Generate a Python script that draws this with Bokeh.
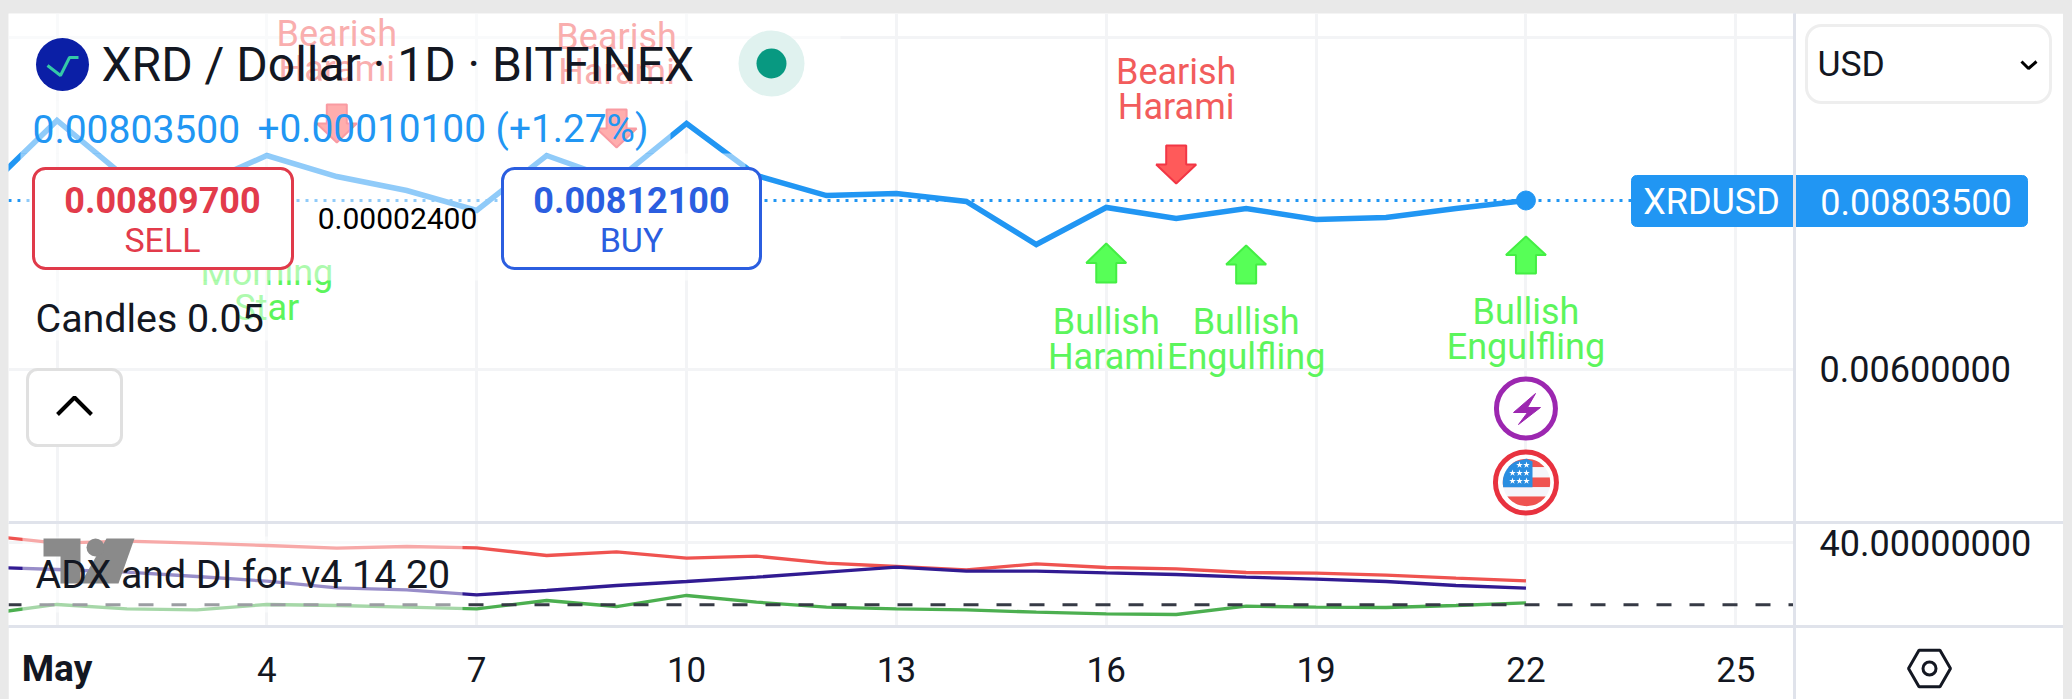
import numpy as np
from bokeh.embed import file_html
from bokeh.layouts import column
from bokeh.models import (BoxAnnotation, FixedTicker, Grid, Label, Range1d, Span)
from bokeh.plotting import figure
from bokeh.resources import INLINE
from bokeh.core.properties import value

days = list(range(0, 23))
price = [.008180, .008999, .008300, .008204, .008577, .008324, .008155, .007915, .008577, .008276, .008963,
         .008336, .008095, .008119, .008023, .007505, .007951, .007818, .007939, .007806, .007830, .007939, .008035]
di_plus = [42.25, 39.79, 40.43, 39.79, 39.04, 38.18, 38.72, 38.29, 35.83, 37.0, 34.97, 35.61, 33.36, 32.3, 31.23,
           33.15, 31.97, 31.55, 30.37, 30.15, 29.51, 28.55, 27.69]
adx = [32.08, 31.33, 30.48, 29.09, 27.59, 25.45, 24.81, 23.2, 24.59, 26.2, 27.48, 28.87, 30.48, 32.08, 30.8, 30.8,
       30.26, 29.73, 28.87, 28.23, 27.48, 26.2, 25.34]
di_minus = [17.1, 20.1, 18.71, 18.39, 20.1, 19.78, 19.24, 18.71, 21.38, 19.45, 22.99, 20.84, 19.24, 18.71, 18.39,
            17.63, 17.1, 16.89, 19.56, 19.24, 19.13, 19.78, 20.63]
x_ticks = [1, 4, 7, 10, 13, 16, 19, 22, 25]
x_labels = ["May", "4", "7", "10", "13", "16", "19", "22", "25"]
last_price = 0.008035
hline_value = 20

bear_days = [5, 9, 17]
bear_labels = ["Bearish\nHarami", "Bearish\nHarami", "Bearish\nHarami"]
bull_days = [16, 18, 22]
bull_labels = ["Bullish\nHarami", "Bullish\nEngulfling", "Bullish\nEngulfling"]

FONT = "Roboto"
INK = "#131722"
BLUE = "#2196f3"
GRID = "#f3f4f6"
EDGE = "#e0e3eb"

# page geometry (the card sits at x 8..2063, y 13..699)
L, AX, R, T, DIV, BOT, PAGE_B = 8, 1794, 2063, 13, 523, 626, 699
def X(px): return 1 + (px - 56.5) / 69.95
def Y(py): return 0.008035 + (200 - py) / 83000
def Z(py): return 20 + (604.3 - py) / 3.115

xr = Range1d(X(L), X(AX))
main = figure(width=R - L, height=DIV - T, output_backend="svg", toolbar_location=None, x_range=xr,
              y_range=Range1d(Y(DIV), Y(T)), x_axis_type=None, y_axis_location="right",
              min_border_left=0, min_border_top=0, min_border_bottom=0, min_border_right=R - AX,
              outline_line_color=None, background_fill_color="white", border_fill_color="white")
ind = figure(width=R - L, height=PAGE_B - DIV, output_backend="svg", toolbar_location=None, x_range=xr,
             y_range=Range1d(Z(BOT), Z(DIV)), y_axis_location="right",
             min_border_left=0, min_border_top=0, min_border_bottom=PAGE_B - BOT, min_border_right=R - AX,
             outline_line_color=None, background_fill_color="white", border_fill_color="white")
# transparent sheet on top of both panes, in page pixels, for the scale-column furniture
top = figure(width=R - L, height=PAGE_B - T, frame_width=R - L, frame_height=PAGE_B - T,
             output_backend="svg", toolbar_location=None,
             x_range=Range1d(L, R), y_range=Range1d(PAGE_B, T), x_axis_type=None, y_axis_type=None,
             min_border=0, outline_line_color=None, background_fill_alpha=0, border_fill_alpha=0,
             margin=(-(PAGE_B - T), 0, 0, 0))
top.grid.visible = False

def style_y(ax, ticks, fmt):
    ax.ticker = FixedTicker(ticks=ticks)
    ax.major_label_overrides = {t: fmt % t for t in ticks}
    ax.major_tick_line_color = None
    ax.minor_tick_line_color = None
    ax.major_label_standoff = 19
    ax.major_label_text_font = FONT
    ax.major_label_text_font_size = "36px"
    ax.major_label_text_color = INK
    ax.axis_line_color = EDGE
    ax.axis_line_width = 3

style_y(main.yaxis[0], [0.006], "%.8f")
style_y(ind.yaxis[0], [40], "%.8f")

xa = ind.xaxis[0]
xa.ticker = FixedTicker(ticks=x_ticks)
xa.major_label_overrides = {t: (" " if s == "May" else s) for t, s in zip(x_ticks, x_labels)}
xa.major_tick_line_color = None
xa.minor_tick_line_color = None
xa.axis_line_color = EDGE
xa.axis_line_width = 3
xa.major_label_standoff = 17
xa.major_label_text_font = FONT
xa.major_label_text_font_size = "35px"
xa.major_label_text_color = INK

# grids
main.grid.visible = False
ind.grid.visible = False
main.add_layout(Grid(dimension=0, ticker=FixedTicker(ticks=x_ticks), grid_line_color=GRID, grid_line_width=3))
main.add_layout(Grid(dimension=1, ticker=FixedTicker(ticks=[0.006, 0.01]), grid_line_color=GRID, grid_line_width=3))
ind.add_layout(Grid(dimension=0, ticker=FixedTicker(ticks=x_ticks), grid_line_color=GRID, grid_line_width=3))
ind.add_layout(Grid(dimension=1, ticker=FixedTicker(ticks=[40]), grid_line_color=GRID, grid_line_width=3))

# --- main pane
main.line([X(L), X(1631)], [last_price, last_price], line_color=BLUE, line_width=3, line_dash="3 6")
main.line(days, price, line_color=BLUE, line_width=5.5, line_join="miter")
main.scatter([days[-1]], [price[-1]], size=19, marker="circle", fill_color=BLUE, line_color=BLUE)

def arrow(day, tip_py, base_py, color, edge):
    cx = 56.5 + (day - 1) * 69.95
    neck = tip_py + (base_py - tip_py) * 0.5
    xs = [cx, cx + 20, cx + 10, cx + 10, cx - 10, cx - 10, cx - 20]
    ys = [tip_py, neck, neck, base_py, base_py, neck, neck]
    main.patch([X(v) for v in xs], [Y(v) for v in ys], fill_color=color, line_color=edge, line_width=2)

for d, tip, base in zip(bear_days, [142, 147, 183], [104, 109, 145]):
    arrow(d, tip, base, "#ff5a5a", "#f23645")
for d, tip, base in zip(bull_days, [243, 245, 236], [282, 283, 273]):
    arrow(d, tip, base, "#57ff57", "#44ee44")

main.text(bear_days + [4], [Y(51), Y(54), Y(89), Y(290)], text=bear_labels + ["Morning\nStar"],
          text_font=value(FONT), text_font_size="36px", text_align="center", text_baseline="middle",
          text_line_height=0.85, text_color=["#f25c5c"] * 3 + ["#5cf55c"])
main.text(bull_days, [Y(339), Y(339), Y(329)], text=bull_labels,
          text_font=value(FONT), text_font_size="36px", text_align="center", text_baseline="middle",
          text_line_height=0.85, text_color="#5cf55c")

# event badges on day 22
c22 = days[-1]
main.scatter([c22], [Y(408)], marker="circle", size=59, fill_color="white", line_color="#9c27b0", line_width=5)
bolt = [(1535, 393), (1513, 412), (1527, 412), (1518, 424), (1540, 407), (1527, 407)]
main.patch([X(a) for a, _ in bolt], [Y(b) for _, b in bolt], fill_color="#9c27b0", line_color="#9c27b0")
main.scatter([c22], [Y(482)], marker="circle", size=61, fill_color="white", line_color="#e8323f", line_width=5)

cx, cy, rr = 1526, 482, 23.7
def band(y0, y1, x_max=None):
    ys = np.linspace(y0, y1, 12)
    half = np.sqrt(np.maximum(rr ** 2 - (ys - cy) ** 2, 0))
    right = cx + half if x_max is None else np.minimum(cx + half, x_max)
    return list(cx - half) + list(right[::-1]), list(ys) + list(ys[::-1])
for y0, y1, col in [(458.3, 466.7, "#ef5350"), (476.7, 486.7, "#ef5350"), (495.7, 505.7, "#ef5350"),
                    (466.7, 476.7, "#f5f5fa"), (486.7, 495.7, "#f5f5fa")]:
    a, b = band(y0, y1)
    main.patch([X(v) for v in a], [Y(v) for v in b], fill_color=col, line_color=None)
a, b = band(458.3, 486.7, 1532)
main.patch([X(v) for v in a], [Y(v) for v in b], fill_color="#2a8de0", line_color=None)
sx = [1519, 1526, 1512, 1519, 1526, 1512, 1519, 1526]
sy = [464.5, 464.5, 472.5, 472.5, 472.5, 480.5, 480.5, 480.5]
main.scatter([X(v) for v in sx], [Y(v) for v in sy], marker="star", size=7, fill_color="white", line_color=None)

# translucent legend backdrop
for x0, x1, y0, y1 in [(L, 840, T, 100), (20, 670, 100, 153), (20, 745, 153, 280), (20, 268, 280, 340)]:
    main.add_layout(BoxAnnotation(left=X(x0), right=X(x1), top=Y(y0), bottom=Y(y1), fill_color="white",
                                  fill_alpha=0.5, line_color=None, line_alpha=0))

def label(x, y, text, size, color=INK, align="left", style="normal"):
    top.add_layout(Label(x=x, y=y, text=text, text_font=FONT, text_font_size=size, text_color=color,
                         text_align=align, text_baseline="middle", text_font_style=style))

def box(x0, x1, y0, y1, fill, edge, width=3, radius=12):
    top.add_layout(BoxAnnotation(left=x0, right=x1, top=y0, bottom=y1, fill_color=fill, fill_alpha=1,
                                 line_color=edge, line_width=width, line_alpha=1, border_radius=radius))

# title block
top.scatter([62], [64], marker="circle", size=53, fill_color="#0b1fa6", line_color=None)
top.line([47, 60, 69, 78], [65, 75, 57, 57], line_color="#35c9a8", line_width=3)
top.scatter([771], [63], marker="circle", size=66, fill_color="#e0f2ef", line_color=None)
top.scatter([771], [63], marker="circle", size=30, fill_color="#089981", line_color=None)
label(101, 64, "XRD / Dollar · 1D · BITFINEX", "48px")
label(32, 128, "0.00803500", "39px", BLUE)
label(257, 128, "+0.00010100 (+1.27%)", "38.8px", BLUE)

box(33, 292, 168, 268, "white", "#e03a4a")
label(162, 199, "0.00809700", "36px", "#e23b4b", "center", "bold")
label(162, 239, "SELL", "34px", "#e23b4b", "center")
label(397, 218, "0.00002400", "30px", "#000000", "center")
box(502, 760, 168, 268, "white", "#2b5ee0")
label(631, 199, "0.00812100", "36px", "#2b5ee0", "center", "bold")
label(631, 239, "BUY", "34px", "#2b5ee0", "center")
label(35, 318, "Candles 0.05", "39.4px")

box(27, 121, 369, 445, "white", "#e0e0e0", radius=10)
top.line([57, 74, 91], [414, 397, 414], line_color="#000000", line_width=4, level="overlay")

# currency selector and price tag, in the scale column
box(1806, 2050, 25, 102, "white", "#eeeeee", radius=15)
label(1817, 63, "USD", "35.5px")
top.line([2021, 2028, 2036], [61, 68, 61], line_color="#000000", line_width=3, level="overlay")
box(1631, 2027, 175, 226, BLUE, BLUE, width=1, radius=5)
label(1711, 201, "XRDUSD", "36px", "white", "center")
label(1915.5, 201, "0.00803500", "36px", "white", "center")
# pane dividers and scale rule
top.line([AX, AX], [T, PAGE_B], line_color=EDGE, line_width=3, level="overlay")
top.line([L, R], [522, 522], line_color=EDGE, line_width=3)
top.line([L, R], [626, 626], line_color=EDGE, line_width=3)

# --- indicator pane
ind.line(days, di_plus, line_color="#ef5350", line_width=3.3)
ind.line(days, adx, line_color="#311b92", line_width=3.3)
ind.line(days, di_minus, line_color="#4caf50", line_width=3.3)
ind.add_layout(Span(location=hline_value, dimension="width", line_color="#363a45", line_width=3, line_dash="15 18",
                    line_dash_offset=2))
ind.add_layout(BoxAnnotation(left=X(22), right=X(462), top=Z(536), bottom=Z(612), fill_color="white", fill_alpha=0.5,
                             line_color=None, line_alpha=0))
top.patch([43, 80, 80, 60, 60, 43], [538, 538, 583, 583, 556, 556], fill_color="#8a8a8a", line_color=None)
top.patch([106, 134, 118, 80], [538, 538, 583, 583], fill_color="#8a8a8a", line_color=None)
top.scatter([95], [547], marker="circle", size=18, fill_color="#8a8a8a", line_color=None)
label(35, 574, "ADX and DI for v4 14 20", "39.3px")

label(56.5, 668, x_labels[0], "37px", INK, "center", "bold")
# hexagon settings icon
hx, hy, hr = 1929, 668, 21
ang = np.deg2rad([0, 60, 120, 180, 240, 300])
top.patch([hx + hr * np.cos(a) for a in ang], [hy + hr * np.sin(a) for a in ang],
          fill_alpha=0, line_color=INK, line_width=3)
top.scatter([hx], [hy], marker="circle", size=13, fill_alpha=0, line_color=INK, line_width=3)

page = column(main, ind, top, spacing=0)
html = file_html(page, INLINE)
html = html.replace("<head>", "<head><style>html,body{overflow:hidden;background:#e9e9e9}"
                              "body{margin:13px 9px 0 8px!important;padding:0}</style>", 1)
open("out.html", "w").write(html)
